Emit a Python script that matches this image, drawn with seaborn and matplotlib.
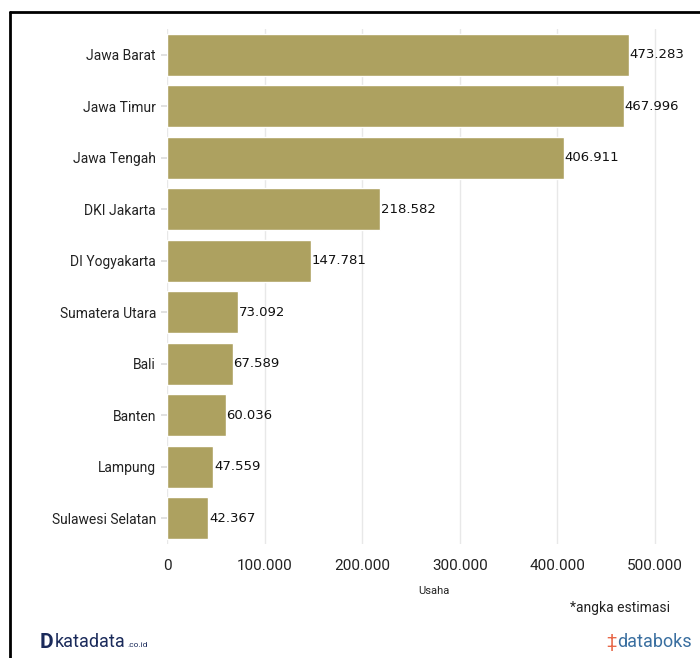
import matplotlib
matplotlib.use("Agg")
import matplotlib.pyplot as plt
import seaborn as sns
import pandas as pd
from matplotlib.lines import Line2D

provinces = ["Jawa Barat", "Jawa Timur", "Jawa Tengah", "DKI Jakarta", "DI Yogyakarta",
             "Sumatera Utara", "Bali", "Banten", "Lampung", "Sulawesi Selatan"]
values = [473283, 467996, 406911, 218582, 147781, 73092, 67589, 60036, 47559, 42367]
value_labels = ["473.283", "467.996", "406.911", "218.582", "147.781",
                "73.092", "67.589", "60.036", "47.559", "42.367"]
xticks = [0, 100000, 200000, 300000, 400000, 500000]
xtick_labels = ["0", "100.000", "200.000", "300.000", "400.000", "500.000"]

df = pd.DataFrame({"prov": provinces, "val": values})

sns.set_theme(style="white")
plt.rcParams['font.family'] = ['Roboto', 'DejaVu Sans']

fig = plt.figure(figsize=(7.0, 6.58), dpi=100)
ax = fig.add_axes([167/700, 1-544/658, (700-167)/700, (544-29)/658])

sns.barplot(data=df, y="prov", x="val", color="#ada160", saturation=1, width=0.82, ax=ax, orient="h")

ax.set_xlim(0, 546000)
ax.set_ylim(9.5, -0.5)
ax.set_xticks(xticks)
ax.set_xticklabels(xtick_labels, fontsize=11, color="#222222")
ax.tick_params(axis="x", length=0, pad=11)
ax.tick_params(axis="y", length=4, color="#dddddd", labelsize=10, labelcolor="#222222", pad=4, left=True)
ax.set_ylabel("")
ax.set_xlabel("Usaha", fontsize=8, color="#222222", labelpad=9)
ax.grid(axis="x", color="#e8e8e8", linewidth=1)
ax.set_axisbelow(True)
for s in ax.spines.values():
    s.set_visible(False)

for i, (v, lab) in enumerate(zip(values, value_labels)):
    ax.text(v + 600, i, lab, va="center", ha="left", fontsize=9.5, family="DejaVu Sans", color="#111111")

fig.text(670/700, 1-608/658, "*angka estimasi", ha="right", va="center", fontsize=10, color="#222222")
fig.text(40/700, 1-642/658, "D", ha="left", va="center", fontsize=15, fontweight="bold", color="#1a2a5a")
fig.text(55/700, 1-642/658, "katadata", ha="left", va="center", fontsize=13, color="#1a2a5a")
fig.text(127/700, 1-645/658, ".co.id", ha="left", va="center", fontsize=6, color="#1a2a5a")
fig.text(606/700, 1-642/658, "\u2021", ha="left", va="center", fontsize=13, color="#e8694a")
fig.text(617/700, 1-642/658, "databoks", ha="left", va="center", fontsize=13, color="#3a6fa0")

# black frame (left and top edges)
fig.add_artist(Line2D([10/700, 10/700], [0, 1-12/658], color="black", linewidth=2, transform=fig.transFigure))
fig.add_artist(Line2D([10/700, 1], [1-12/658, 1-12/658], color="black", linewidth=2, transform=fig.transFigure))

fig.savefig("out.png", dpi=100)
